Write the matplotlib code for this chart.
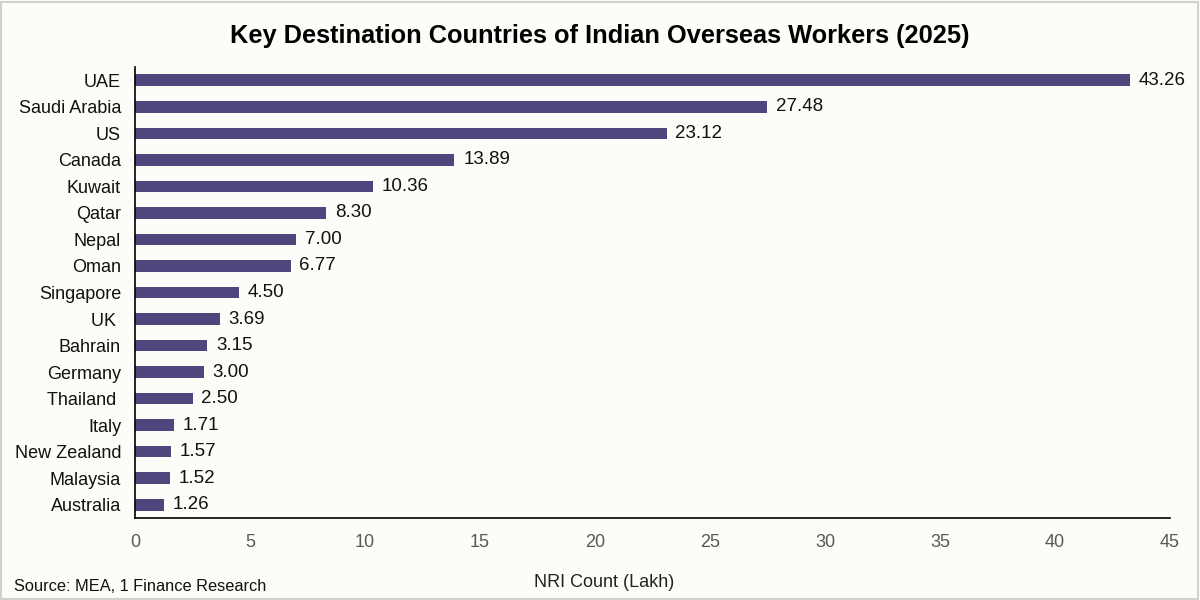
import matplotlib.pyplot as plt
from matplotlib.patches import Rectangle

countries = ['UAE', 'Saudi Arabia', 'US', 'Canada', 'Kuwait', 'Qatar', 'Nepal', 'Oman',
             'Singapore', 'UK ', 'Bahrain', 'Germany', 'Thailand ', 'Italy', 'New Zealand',
             'Malaysia', 'Australia']
nri_lakh = [43.26, 27.48, 23.12, 13.89, 10.36, 8.30, 7.00, 6.77,
            4.50, 3.69, 3.15, 3.00, 2.50, 1.71, 1.57, 1.52, 1.26]
x_ticks = [0, 5, 10, 15, 20, 25, 30, 35, 40, 45]

plt.rcParams['font.family'] = ['Liberation Sans', 'DejaVu Sans']
bg = '#fdfcf8'
bar_color = '#4e477e'

fig = plt.figure(figsize=(12, 6), dpi=100, facecolor=bg)
ax = fig.add_axes([0.1125, 0.137, 0.8625, 0.751], facecolor=bg)

pos = list(range(len(countries)))
ax.barh(pos, nri_lakh, height=0.45, color=bar_color)
for p, v in zip(pos, nri_lakh):
    ax.text(v + 0.38, p, f'{v:.2f}', va='center', ha='left', fontsize=13.5, color='#111111')

ax.set_yticks(pos)
ax.set_yticklabels(countries)
ax.set_ylim(len(countries) - 0.5, -0.5)
ax.set_xlim(0, 45)
ax.set_xticks(x_ticks)
ax.tick_params(axis='y', length=0, labelsize=13, labelcolor='#111111', pad=10)
ax.tick_params(axis='x', length=0, labelsize=13, labelcolor='#595959', pad=12)
for s in ['top', 'right']:
    ax.spines[s].set_visible(False)
for s in ['left', 'bottom']:
    ax.spines[s].set_color('#000000')
    ax.spines[s].set_linewidth(1.2)

ax.set_xlabel('NRI Count (Lakh)', fontsize=13, color='#222222')
ax.xaxis.set_label_coords(0.453, -0.125)
fig.suptitle('Key Destination Countries of Indian Overseas Workers (2025)',
             fontsize=18.3, fontweight='bold', y=0.96, x=0.5)
fig.text(0.012, 0.015, 'Source: MEA, 1 Finance Research', fontsize=11.8, color='#111111')

fig.patches.append(Rectangle((0.001, 0.002), 0.997, 0.995, transform=fig.transFigure,
                             fill=False, edgecolor='#d0d0d0', linewidth=1.5))

fig.savefig('out.png', dpi=100, facecolor=bg)
